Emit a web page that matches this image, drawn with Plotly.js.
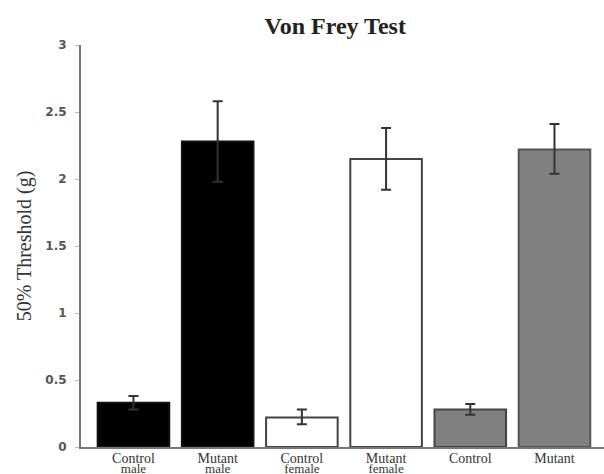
<!DOCTYPE html>
<html>
<head>
<meta charset="utf-8">
<script src="https://cdn.plot.ly/plotly-3.0.1.min.js"></script>
<style>html,body{margin:0;padding:0;background:#fff;}#chart{width:604px;height:474px;}</style>
</head>
<body>
<div id="chart"></div>
<script>
const labelLine1 = ["Control", "Mutant", "Control", "Mutant", "Control", "Mutant"];
const labelLine2 = ["male", "male", "female", "female", "", ""];
const thresholdMean = [0.33, 2.28, 0.22, 2.15, 0.28, 2.22];
const errorUp = [0.05, 0.30, 0.06, 0.23, 0.04, 0.19];
const errorDown = [0.05, 0.30, 0.05, 0.23, 0.04, 0.18];
const barColors = ["#000000", "#000000", "#ffffff", "#ffffff", "#808080", "#808080"];
const barLines = ["#111111", "#111111", "#444444", "#444444", "#444444", "#555555"];
const yTicks = [0, 0.5, 1, 1.5, 2, 2.5, 3];

const xIdx = labelLine1.map((c, i) => i);
const serif = "Liberation Serif, Times New Roman, serif";

const trace = {
  type: "bar",
  x: xIdx,
  y: thresholdMean,
  marker: { color: barColors, line: { color: barLines, width: 2 } },
  error_y: {
    type: "data", symmetric: false, array: errorUp, arrayminus: errorDown,
    color: "#333333", thickness: 2, width: 5
  },
  hoverinfo: "none"
};
const dummy = { type: "scatter", mode: "none", x: xIdx, y: thresholdMean, xaxis: "x2", yaxis: "y", hoverinfo: "none" };

const layout = {
  width: 604, height: 474,
  margin: { l: 81, r: 0, t: 45, b: 27 },
  paper_bgcolor: "#ffffff", plot_bgcolor: "#ffffff",
  showlegend: false,
  bargap: 0.15,
  title: {
    text: "<b>Von Frey Test</b>",
    font: { family: serif, size: 24, color: "#222" },
    x: 0.555, xanchor: "center", y: 0.947, yanchor: "middle"
  },
  xaxis: {
    range: [-0.623, 5.588],
    tickmode: "array", tickvals: xIdx, ticktext: labelLine1,
    showline: true, linecolor: "#777", linewidth: 2,
    ticks: "", showgrid: false, zeroline: false,
    tickfont: { family: serif, size: 14, color: "#333" },
    ticklabelstandoff: -3
  },
  xaxis2: {
    overlaying: "x", anchor: "y", side: "bottom",
    range: [-0.623, 5.588],
    tickmode: "array", tickvals: xIdx, ticktext: labelLine2,
    showline: false, ticks: "", showgrid: false, zeroline: false,
    tickfont: { family: serif, size: 13, color: "#333" },
    ticklabelstandoff: 12
  },
  yaxis: {
    range: [0, 3],
    tickmode: "array", tickvals: yTicks, ticktext: yTicks.map(String),
    showline: true, linecolor: "#777", linewidth: 2,
    ticks: "outside", ticklen: 4, tickcolor: "#bbb", tickwidth: 1,
    showgrid: false, zeroline: false,
    ticklabelstandoff: 6,
    tickfont: { family: "DejaVu Sans, sans-serif", size: 12, color: "#555", weight: "bold" },
    title: {
      text: "50% Threshold (g)",
      font: { family: serif, size: 20, color: "#333" },
      standoff: 8
    }
  }
};

Plotly.newPlot("chart", [trace, dummy], layout, { displayModeBar: false, staticPlot: true });
</script>
</body>
</html>
